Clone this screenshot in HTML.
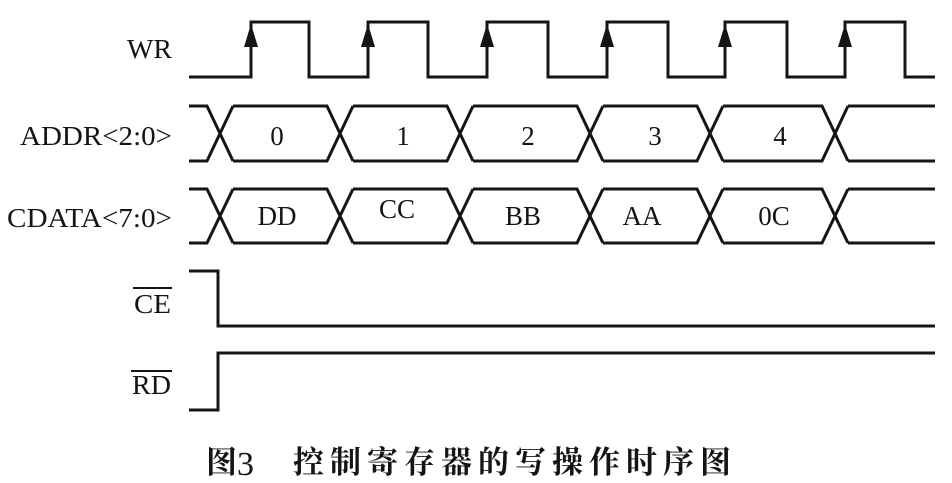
<!DOCTYPE html>
<html>
<head>
<meta charset="utf-8">
<style>
  html, body { margin: 0; padding: 0; background: #fff; }
  body { width: 952px; height: 483px; overflow: hidden; }
  svg { display: block; }
  .lbl { font-family: "Liberation Serif", serif; font-size: 27px; fill: #141414; }
  .cap { font-family: "Liberation Serif", "Noto Serif CJK SC", serif; font-size: 31px; fill: #141414; font-weight: bold; }
  .num { font-family: "Liberation Serif", serif; font-size: 34px; fill: #141414; }
</style>
</head>
<body>
<svg width="952" height="483" viewBox="0 0 952 483" xmlns="http://www.w3.org/2000/svg">
  <rect width="952" height="483" fill="#fff"/>
  <g fill="none" stroke="#151515" stroke-width="3" stroke-linejoin="miter" stroke-linecap="butt">
    <!-- WR -->
    <path d="M189 77 H251 V22 H309 V77 H368 V22 H428 V77 H487 V22 H548 V77 H607 V22 H668 V77 H725 V22 H787 V77 H845 V22 H905 V77 H935"/>
    <!-- ADDR bus -->
    <path d="M189 106 H207 L233 161 M189 161 H207 L233 106
             M233 106 H327 L353 161 M233 161 H327 L353 106
             M353 106 H447 L473 161 M353 161 H447 L473 106
             M473 106 H577 L603 161 M473 161 H577 L603 106
             M603 106 H697 L723 161 M603 161 H697 L723 106
             M723 106 H822 L848 161 M723 161 H822 L848 106
             M848 106 H935 M848 161 H935"/>
    <!-- CDATA bus -->
    <path d="M189 189 H207 L233 243 M189 243 H207 L233 189
             M233 189 H327 L353 243 M233 243 H327 L353 189
             M353 189 H447 L473 243 M353 243 H447 L473 189
             M473 189 H577 L603 243 M473 243 H577 L603 189
             M603 189 H697 L723 243 M603 243 H697 L723 189
             M723 189 H822 L848 243 M723 243 H822 L848 189
             M848 189 H935 M848 243 H935"/>
    <!-- CE -->
    <path d="M189 271 H218 V326 H935"/>
    <!-- RD -->
    <path d="M189 410 H218 V353 H935"/>
  </g>
  <!-- arrows -->
  <g fill="#151515">
    <polygon points="251,24 244,47 258,47"/>
    <polygon points="368,24 361,47 375,47"/>
    <polygon points="487,24 480,47 494,47"/>
    <polygon points="607,24 600,47 614,47"/>
    <polygon points="725,24 718,47 732,47"/>
    <polygon points="845,24 838,47 852,47"/>
  </g>
  <!-- signal labels -->
  <text class="lbl" x="172" y="58" text-anchor="end" textLength="45" lengthAdjust="spacingAndGlyphs">WR</text>
  <text class="lbl" x="20" y="145" textLength="152" lengthAdjust="spacingAndGlyphs">ADDR&lt;2:0&gt;</text>
  <text class="lbl" x="7" y="227" textLength="165" lengthAdjust="spacingAndGlyphs">CDATA&lt;7:0&gt;</text>
  <text class="lbl" x="134" y="313" textLength="37" lengthAdjust="spacingAndGlyphs">CE</text>
  <rect x="133" y="287" width="39" height="2" fill="#151515"/>
  <text class="lbl" x="132" y="394" textLength="39" lengthAdjust="spacingAndGlyphs">RD</text>
  <rect x="131" y="370" width="41" height="2" fill="#151515"/>
  <!-- bus values -->
  <text class="lbl" x="277" y="145" text-anchor="middle">0</text>
  <text class="lbl" x="403" y="145" text-anchor="middle">1</text>
  <text class="lbl" x="528" y="145" text-anchor="middle">2</text>
  <text class="lbl" x="655" y="145" text-anchor="middle">3</text>
  <text class="lbl" x="780" y="145" text-anchor="middle">4</text>
  <text class="lbl" x="277" y="225" text-anchor="middle">DD</text>
  <text class="lbl" x="397" y="218" text-anchor="middle">CC</text>
  <text class="lbl" x="523" y="225" text-anchor="middle">BB</text>
  <text class="lbl" x="642" y="225" text-anchor="middle">AA</text>
  <text class="lbl" x="774" y="225" text-anchor="middle">0C</text>
  <!-- caption -->
  <text class="cap" x="206" y="473">图</text>
  <text class="num" x="237" y="475">3</text>
  <text class="cap" x="293 330 367 404 441 478 515 552 589 626 663 700" y="473">控制寄存器的写操作时序图</text>
</svg>
</body>
</html>
